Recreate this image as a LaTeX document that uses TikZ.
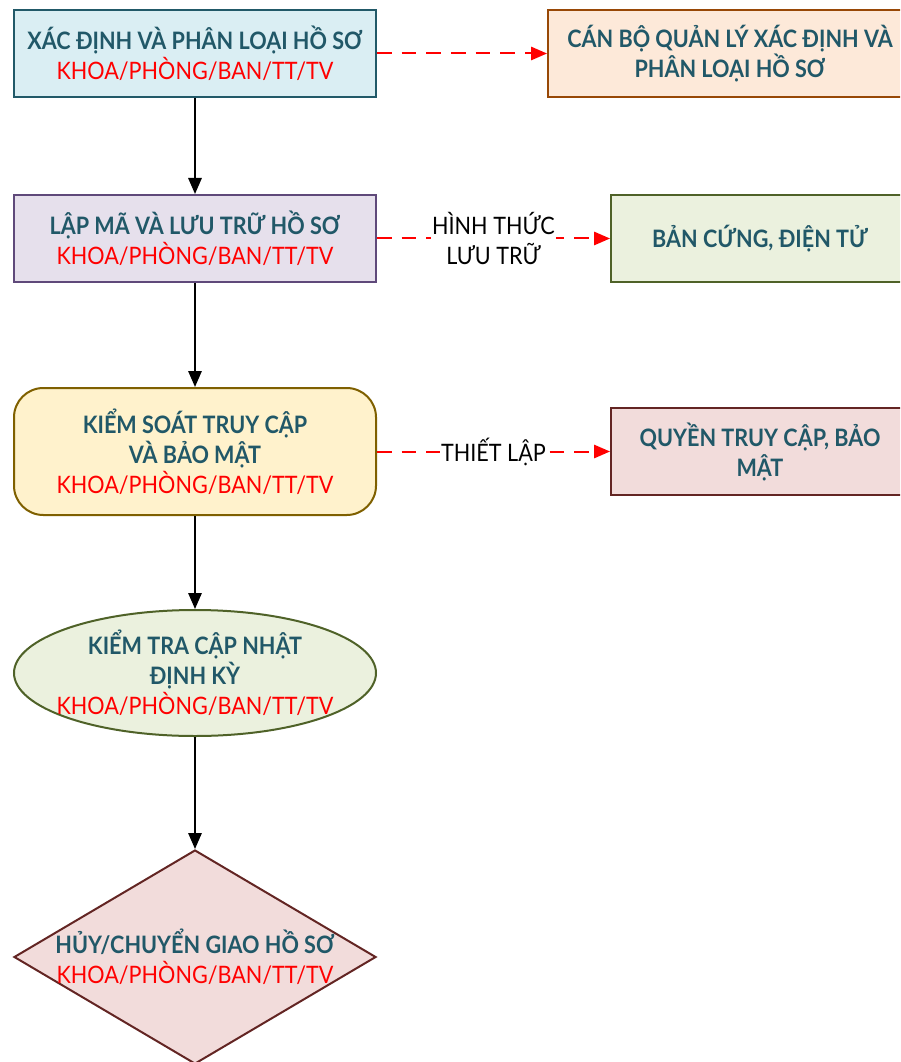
\documentclass[tikz,border=0pt]{standalone}
\usepackage{fontspec}
\setmainfont{Lato}[FakeStretch=0.9]
\usetikzlibrary{arrows.meta,positioning,shapes.geometric}

\definecolor{titleclr}{HTML}{215868}
\definecolor{blueline}{HTML}{215968}
\definecolor{bluefill}{HTML}{DAEEF3}
\definecolor{purpleline}{HTML}{5F497A}
\definecolor{purplefill}{HTML}{E6E0EC}
\definecolor{goldline}{HTML}{7F6000}
\definecolor{goldfill}{HTML}{FFF2CC}
\definecolor{greenline}{HTML}{4F6228}
\definecolor{greenfill}{HTML}{EBF1DE}
\definecolor{redline}{HTML}{632523}
\definecolor{redfill}{HTML}{F2DCDB}
\definecolor{orangeline}{HTML}{984806}
\definecolor{orangefill}{HTML}{FDE9D9}

\newcommand{\unitline}{\textcolor{red}{\mdseries KHOA/PHÒNG/BAN/TT/TV}}

\begin{document}
\begin{tikzpicture}[x=0.75pt,y=0.75pt,yscale=-1,xscale=1,
  basefont/.style={font=\fontsize{18}{22.5}\selectfont},
  stepbox/.style={draw,line width=1.5pt,inner sep=0pt,align=center,
    minimum width=271.5pt,minimum height=65.25pt,
    font=\fontsize{18}{22.5}\selectfont\bfseries,text=titleclr},
  sidebox/.style={stepbox,minimum width=273pt},
  flow/.style={-{Triangle[length=12pt,width=10pt]},line width=1.5pt},
  link/.style={flow,red,dash pattern=on 11pt off 7.5pt},
  linktext/.style={basefont,fill=white,text=black,inner sep=1pt,align=center}]
\useasboundingbox (0,0) rectangle (900,1062);
\clip (0,0) rectangle (900,1062);

% Main steps
\node (classify) at (195,53.5) [stepbox,fill=bluefill,draw=blueline]
  {XÁC ĐỊNH VÀ PHÂN LOẠI HỒ SƠ\\ \unitline};
\node (store) at (195,238.5) [stepbox,fill=purplefill,draw=purpleline]
  {LẬP MÃ VÀ LƯU TRỮ HỒ SƠ\\ \unitline};
\node (access) at (195,451.5) [stepbox,fill=goldfill,draw=goldline,
  minimum height=95.25pt,rounded corners=22pt]
  {KIỂM SOÁT TRUY CẬP\\ VÀ BẢO MẬT\\ \unitline};
\node (review) at (195,673) [stepbox,ellipse,fill=greenfill,draw=greenline,
  minimum height=94.5pt,
  label={[stepbox,draw=none,align=center]center:KIỂM TRA CẬP NHẬT\\ ĐỊNH KỲ\\ \unitline}] {};
\node (dispose) at (195,957) [stepbox,diamond,fill=redfill,draw=redline,
  minimum height=160.5pt,
  label={[stepbox,draw=none,align=center]center:HỦY/CHUYỂN GIAO HỒ SƠ\\ \unitline}] {};

% Side boxes
\node (officer) at (730,53.5) [sidebox,fill=orangefill,draw=orangeline]
  {CÁN BỘ QUẢN LÝ XÁC ĐỊNH VÀ\\ PHÂN LOẠI HỒ SƠ};
\node (media) at (760,238.5) [sidebox,minimum width=223.5pt,fill=greenfill,draw=greenline]
  {BẢN CỨNG, ĐIỆN TỬ};
\node (rights) at (760,451.5) [sidebox,minimum width=223.5pt,fill=redfill,draw=redline]
  {QUYỀN TRUY CẬP, BẢO\\ MẬT};

% Flow
\draw [flow] (classify) -- (store);
\draw [flow] (store) -- (access);
\draw [flow] (access) -- (review);
\draw [flow] (review) -- (dispose);

% Links
\draw [link] (classify) -- (officer);
\draw [link] (store) -- node [linktext] {HÌNH THỨC\\ LƯU TRỮ} (media);
\draw [link] (access) -- node [linktext] {THIẾT LẬP} (rights);
\end{tikzpicture}
\end{document}
